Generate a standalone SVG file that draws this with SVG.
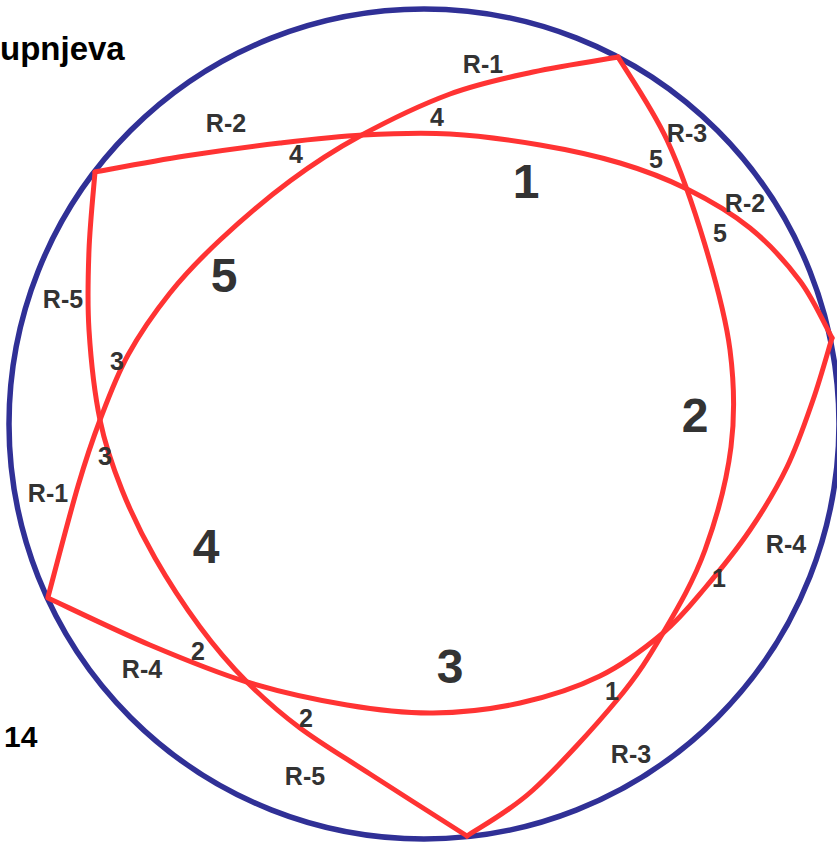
<svg xmlns="http://www.w3.org/2000/svg" width="837" height="842" viewBox="0 0 837 842">
<style>
.ring{fill:none;stroke:#303096;stroke-width:5.5}
.arc{fill:none;stroke:#ff3333;stroke-width:5;stroke-linecap:round;stroke-linejoin:miter}
.t{font-family:"Liberation Sans",Arial,sans-serif;font-weight:bold;fill:#333;text-anchor:middle}
.lbl{font-size:25px}
.num{font-size:25px}
.reg{font-size:48px}
.title{font-family:"Liberation Sans",Arial,sans-serif;font-weight:bold;fill:#000}
</style>
<rect width="837" height="842" fill="#fff"/>
<text class="title" x="0" y="60" font-size="33">upnjeva</text>
<text class="title" x="4" y="747" font-size="30">14</text>
<circle class="ring" cx="424" cy="424" r="415"/>
<g id="arcs">
<path id="R-1" class="arc" d="M618,57 C603.8,59.5 561,65.8 533,72 C505,78.2 478.8,83.3 450,94 C421.2,104.7 386.7,121.5 360,136 C333.3,150.5 313.3,163.7 290,181 C266.7,198.3 240,221.3 220,240 C200,258.7 185.3,273.8 170,293 C154.7,312.2 139.7,333.8 128,355 C116.3,376.2 108.3,398.2 100,420 C91.7,441.8 86.7,456.5 78,486 C69.3,515.5 53,578.5 48,597"/>
<path id="R-2" class="arc" d="M95,172 C110,169.3 154.2,160.8 185,156 C215.8,151.2 250.3,146.5 280,143 C309.7,139.5 334.7,136.5 363,135 C391.3,133.5 420.5,132.3 450,134 C479.5,135.7 511.7,140.2 540,145 C568.3,149.8 595.5,155.7 620,163 C644.5,170.3 665.3,178.2 687,189 C708.7,199.8 731.2,212.7 750,228 C768.8,243.3 786.3,262.7 800,281 C813.7,299.3 826.7,328.5 832,338"/>
<path id="R-3" class="arc" d="M618,57 C626.2,70.8 652.5,108.7 667,140 C681.5,171.3 694.5,210 705,245 C715.5,280 725.7,316.3 730,350 C734.3,383.7 735.2,413.7 731,447 C726.8,480.3 716.3,519 705,550 C693.7,581 677.7,608 663,633 C648.3,658 638.7,673.8 617,700 C595.3,726.2 558,767.3 533,790 C508,812.7 478,828.3 467,836"/>
<path id="R-4" class="arc" d="M832,338 C828.8,348.3 820.5,378.5 813,400 C805.5,421.5 797.5,445.3 787,467 C776.5,488.7 763.7,509.8 750,530 C736.3,550.2 719.5,570.8 705,588 C690.5,605.2 680.5,618.3 663,633 C645.5,647.7 623.8,664.3 600,676 C576.2,687.7 547.8,696.8 520,703 C492.2,709.2 461.8,712.7 433,713 C404.2,713.3 378,710.2 347,705 C316,699.8 279.8,692 247,682 C214.2,672 183.2,659 150,645 C116.8,631 65,605.8 48,598"/>
<path id="R-5" class="arc" d="M95,172 C94,185 90,223.7 89,250 C88,276.3 87.2,301.7 89,330 C90.8,358.3 94.5,393.3 100,420 C105.5,446.7 112.8,467 122,490 C131.2,513 142,535.2 155,558 C168,580.8 184.7,606.3 200,627 C215.3,647.7 230.3,665.2 247,682 C263.7,698.8 279.5,712.7 300,728 C320.5,743.3 342.2,756 370,774 C397.8,792 450.8,825.7 467,836"/>
</g>
<g id="labels">
<text class="t lbl" x="483" y="73">R-1</text>
<text class="t lbl" x="48" y="502">R-1</text>
<text class="t lbl" x="226" y="132">R-2</text>
<text class="t lbl" x="745" y="212">R-2</text>
<text class="t lbl" x="687" y="142">R-3</text>
<text class="t lbl" x="631" y="763">R-3</text>
<text class="t lbl" x="786" y="553">R-4</text>
<text class="t lbl" x="142" y="678">R-4</text>
<text class="t lbl" x="63" y="308">R-5</text>
<text class="t lbl" x="305" y="785">R-5</text>
</g>
<g id="marks">
<text class="t num" x="437" y="126">4</text>
<text class="t num" x="296" y="163">4</text>
<text class="t num" x="656" y="168">5</text>
<text class="t num" x="720" y="242">5</text>
<text class="t num" x="117" y="370">3</text>
<text class="t num" x="105" y="465">3</text>
<text class="t num" x="198" y="660">2</text>
<text class="t num" x="306" y="727">2</text>
<text class="t num" x="612" y="700">1</text>
<text class="t num" x="719" y="587">1</text>
</g>
<g id="regions">
<text class="t reg" x="526" y="198">1</text>
<text class="t reg" x="695" y="432">2</text>
<text class="t reg" x="450" y="683">3</text>
<text class="t reg" x="206" y="563">4</text>
<text class="t reg" x="224" y="292">5</text>
</g>
</svg>
